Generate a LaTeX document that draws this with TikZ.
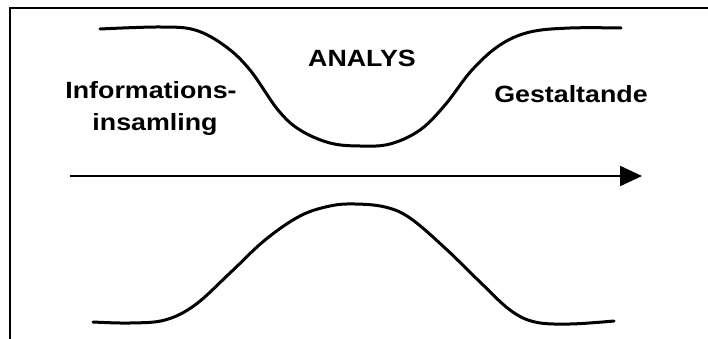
\documentclass[tikz,border=0pt]{standalone}
\usepackage{fontspec}
\setmainfont{Liberation Sans}
\usetikzlibrary{arrows.meta}
\tikzset{
  lbl/.style={font=\fontsize{23.5}{27}\selectfont\bfseries, inner sep=0pt, anchor=base, xscale=1.14, transform shape},
  curve/.style={line width=3pt, line cap=round, line join=round},
  frame/.style={line width=2.5pt},
  flow/.style={line width=2pt, -{Triangle[length=22pt,width=20pt]}}
}
\begin{document}
\begin{tikzpicture}[x=1pt,y=-1pt]
\useasboundingbox (0,0) rectangle (708,339);
\draw[frame] (10,340) -- (10,8) -- (709,8);
\draw[curve] plot[smooth, tension=0.6] coordinates {(100,29) (160,27) (195,30) (225,46) (250,70) (278,110) (300,130) (330,143) (360,146) (390,144) (420,130) (445,105) (472,70) (500,45) (530,32) (570,28) (621,28)};
\draw[curve] plot[smooth, tension=0.6] coordinates {(93,322) (130,323) (165,320) (195,305) (230,273) (265,240) (300,216) (330,206) (355,204) (385,207) (410,218) (445,248) (480,282) (510,310) (535,322) (570,324) (614,321)};
\coordinate (start) at (70,176);
\coordinate (end) at (642,176);
\draw[flow] (start) -- (end);
\node[lbl] (analys) at (362,67) {ANALYS};
\node[lbl] (info1) at (151,99) {Informations-};
\node[lbl] (info2) at (155,131) {insamling};
\node[lbl] (gest) at (571,103) {Gestaltande};
\end{tikzpicture}
\end{document}
